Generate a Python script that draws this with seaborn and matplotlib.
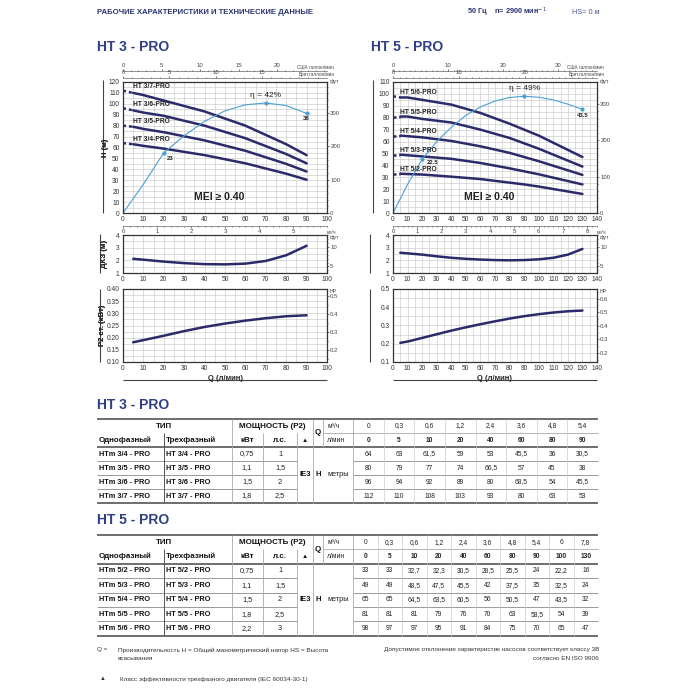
import matplotlib
matplotlib.use('Agg')
import numpy as np
import pandas as pd
import seaborn as sns
import matplotlib.pyplot as plt
from matplotlib.ticker import MultipleLocator, FormatStrFormatter

sns.set_style('white')
plt.rcParams['font.family'] = ['Liberation Sans', 'DejaVu Sans']

NAVY = '#2b2a6b'
TITLE = '#2e3f86'
BLUE = '#4b9fd6'
GRID = '#c9c9c9'

# ---------------- HT 3 - PRO ----------------
q3 = [0, 5, 10, 20, 40, 60, 80, 90]
q3_m3 = ['0', '0,3', '0,6', '1,2', '2,4', '3,6', '4,8', '5,4']
models3 = ['3/4', '3/5', '3/6', '3/7']
kw3 = ['0,75', '1,1', '1,5', '1,8']
hp3 = ['1', '1,5', '2', '2,5']
h3 = [[64, 63, 61.5, 59, 53, 45.5, 36, 30.5],
      [80, 79, 77, 74, 66.5, 57, 45, 38],
      [96, 94, 92, 89, 80, 68.5, 54, 45.5],
      [112, 110, 108, 103, 93, 80, 63, 53]]
eff3_q = [0, 10, 20, 30, 40, 50, 60, 70, 80, 90]
eff3 = [0, 11, 23, 29.5, 35, 39, 41.3, 42, 41, 38]
npsh3_q = [5, 10, 20, 30, 40, 50, 60, 70, 80, 90]
npsh3 = [2.12, 2.05, 1.9, 1.78, 1.7, 1.68, 1.74, 1.95, 2.4, 3.15]
p2_3_q = [5, 10, 20, 30, 40, 50, 60, 70, 80, 90]
p2_3 = [0.181, 0.19, 0.208, 0.227, 0.244, 0.258, 0.27, 0.28, 0.288, 0.292]

# ---------------- HT 5 - PRO ----------------
q5 = [0, 5, 10, 20, 40, 60, 80, 90, 100, 130]
q5_m3 = ['0', '0,3', '0,6', '1,2', '2,4', '3,6', '4,8', '5,4', '6', '7,8']
models5 = ['5/2', '5/3', '5/4', '5/5', '5/6']
kw5 = ['0,75', '1,1', '1,5', '1,8', '2,2']
hp5 = ['1', '1,5', '2', '2,5', '3']
h5 = [[33, 33, 32.7, 32.3, 30.5, 28.5, 25.5, 24, 22.2, 16],
      [49, 49, 48.5, 47.5, 45.5, 42, 37.5, 35, 32.5, 24],
      [65, 65, 64.5, 63.5, 60.5, 56, 50.5, 47, 43.5, 32],
      [81, 81, 81, 79, 76, 70, 63, 58.5, 54, 39],
      [98, 97, 97, 95, 91, 84, 75, 70, 65, 47]]
eff5_q = [0, 10, 20, 30, 40, 50, 60, 70, 80, 90, 100, 110, 120, 130]
eff5 = [0, 12, 22.5, 30, 36, 41, 44.5, 47, 48.5, 49, 48.6, 47.5, 45.7, 43.5]
npsh5_q = [5, 10, 20, 30, 40, 50, 60, 70, 80, 90, 100, 110, 120, 130]
npsh5 = [2.6, 2.55, 2.45, 2.32, 2.2, 2.12, 2.06, 2.02, 2.0, 2.02, 2.08, 2.2, 2.45, 2.9]
p2_5_q = [5, 10, 20, 30, 40, 50, 60, 70, 80, 90, 100, 110, 120, 130]
p2_5 = [0.205, 0.212, 0.232, 0.252, 0.272, 0.29, 0.307, 0.323, 0.338, 0.351,
        0.362, 0.371, 0.378, 0.382]

fig = plt.figure(figsize=(7, 7), dpi=100)
W = H_ = 700.0


def px(x0, y0, x1, y1):
    return [x0 / W, 1 - y1 / H_, (x1 - x0) / W, (y1 - y0) / H_]


def style(ax, xmax, ymin, ymax, ymaj, ymin_step):
    ax.set_xlim(0, xmax)
    ax.set_ylim(ymin, ymax)
    ax.xaxis.set_major_locator(MultipleLocator(10))
    ax.xaxis.set_minor_locator(MultipleLocator(5))
    ax.yaxis.set_major_locator(MultipleLocator(ymaj))
    ax.yaxis.set_minor_locator(MultipleLocator(ymin_step))
    ax.grid(which='both', color=GRID, lw=0.45)
    ax.tick_params(which='both', labelsize=4.8, length=1.5, pad=1, colors='#333')
    ax.tick_params(which='minor', length=0)
    for s in ax.spines.values():
        s.set_color('#333')
        s.set_linewidth(0.9)
    ax.set_xlabel('')
    ax.set_ylabel('')


def small_axis(sec, ticks, minor=None, xaxis=True):
    sec.set_ticks(ticks)
    if minor:
        (sec.xaxis if xaxis else sec.yaxis).set_minor_locator(MultipleLocator(minor))
    sec.tick_params(which='both', labelsize=4.3, length=1.5, pad=0.8, colors='#444', width=0.5)
    sec.tick_params(which='minor', length=1.0)
    for s in sec.spines.values():
        s.set_color('#666')
        s.set_linewidth(0.5)


def ylab(ax, text, xpix, rect):
    ax.set_ylabel(text, fontsize=5.5, fontweight='bold')
    ax.yaxis.set_label_coords((xpix - rect[0]) / (rect[2] - rect[0]), 0.5)


def h_chart(rect, xmax, ymax, q, h, models, eff_q, eff, k, marks,
            us_ticks, imp_ticks, m3_ticks, ft_ticks):
    ax = fig.add_axes(px(*rect))
    for name, hv in zip(models, h):
        sns.lineplot(x=q[:2], y=hv[:2], ax=ax, color=NAVY, lw=1.8,
                     linestyle=(0, (1.2, 1.2)))
        sns.lineplot(x=q[1:], y=hv[1:], ax=ax, color=NAVY, lw=1.8)
        ax.text(5, hv[0] + 3.5, 'HT %s-PRO' % name, fontsize=4.8,
                fontweight='bold', color='#222', va='center', ha='left')
    ke = [e * k for e in eff]
    sns.lineplot(x=eff_q, y=ke, ax=ax, color=BLUE, lw=0.8)
    for mq, lab, dx, dy, ha in marks:
        v = eff[eff_q.index(mq)] * k
        ax.plot([mq], [v], 'o', color=BLUE, ms=2)
        eta = 'η' in lab
        ax.text(mq + dx, v + dy, lab, fontsize=6 if eta else 4.3,
                color='#222', ha=ha, va='center',
                fontweight='normal' if eta else 'bold')
    ax.text(xmax * 0.47, ymax * 0.125, 'MEI ≥ 0.40', fontsize=7.5,
            fontweight='bold', color='#222', ha='center', va='center')
    style(ax, xmax, 0, ymax, 10, 5)
    ylab(ax, 'H (м)', 109, rect)
    us = ax.secondary_xaxis(1.085, functions=(lambda x: x / 3.785, lambda x: x * 3.785))
    small_axis(us, us_ticks, 1)
    imp = ax.secondary_xaxis(1.03, functions=(lambda x: x / 4.546, lambda x: x * 4.546))
    small_axis(imp, imp_ticks, 1)
    m3 = ax.secondary_xaxis(-0.1, functions=(lambda x: x * 0.06, lambda x: x / 0.06))
    small_axis(m3, m3_ticks, 0.2)
    ft = ax.secondary_yaxis('right', functions=(lambda x: x * 3.281, lambda x: x / 3.281))
    small_axis(ft, ft_ticks, 20, xaxis=False)
    ax.text(1.035, 1.095, 'США галлон/мин', transform=ax.transAxes, fontsize=3.3,
            ha='right', va='bottom', color='#444')
    ax.text(1.035, 1.04, 'Брит.галлон/мин', transform=ax.transAxes, fontsize=3.3,
            ha='right', va='bottom', color='#444')
    ax.text(1.015, 1.0, 'фут', transform=ax.transAxes, fontsize=3.8,
            ha='left', va='center', color='#444')
    ax.text(1.0, -0.13, 'м³/ч', transform=ax.transAxes, fontsize=3.8,
            ha='left', va='top', color='#444')
    return ax


def npsh_chart(rect, xmax, q, v):
    ax = fig.add_axes(px(*rect))
    sns.lineplot(x=q, y=v, ax=ax, color=NAVY, lw=1.8)
    style(ax, xmax, 1, 4, 1, 0.5)
    ylab(ax, 'ДКЗ (м)', 108, rect)
    ft = ax.secondary_yaxis('right', functions=(lambda x: x * 3.281, lambda x: x / 3.281))
    small_axis(ft, [5, 10], 1, xaxis=False)
    ax.text(1.015, 0.93, 'фут', transform=ax.transAxes, fontsize=3.8,
            ha='left', va='center', color='#444')
    return ax


def p2_chart(rect, xmax, q, v, ymax, ystep, hp_ticks):
    ax = fig.add_axes(px(*rect))
    sns.lineplot(x=q, y=v, ax=ax, color=NAVY, lw=1.8)
    style(ax, xmax, 0.1, ymax, ystep, ystep / 2)
    ax.yaxis.set_major_formatter(FormatStrFormatter('%.2f' if ystep < 0.1 else '%.1f'))
    ylab(ax, 'P2 ст. (кВт)', 106, rect)
    ax.set_xlabel('Q (л/мин)', fontsize=5.5, fontweight='bold', labelpad=2)
    hp = ax.secondary_yaxis('right', functions=(lambda x: x * 1.341, lambda x: x / 1.341))
    small_axis(hp, hp_ticks, 0.05, xaxis=False)
    ax.text(1.015, 0.97, 'HP', transform=ax.transAxes, fontsize=3.8,
            ha='left', va='center', color='#444')
    return ax


h_chart((123, 82, 327, 213), 100, 120, q3, h3, models3,
        eff3_q, eff3, 2.4,
        [(20, '23', 1.5, -5, 'left'), (70, 'η = 42%', 0, 7, 'center'),
         (90, '38', 0, -5, 'center')],
        [0, 5, 10, 15, 20], [0, 5, 10, 15], [0, 1, 2, 3, 4, 5], [0, 100, 200, 300])
npsh_chart((123, 235, 327, 273), 100, npsh3_q, npsh3)
p2_chart((123, 289, 327, 362), 100, p2_3_q, p2_3, 0.40, 0.05, [0.2, 0.3, 0.4, 0.5])

h_chart((393, 82, 597, 213), 140, 110, q5, h5, models5,
        eff5_q, eff5, 2.0,
        [(20, '22.5', 3, -2.5, 'left'), (90, 'η = 49%', 0, 6.5, 'center'),
         (130, '43.5', 0, -5, 'center')],
        [0, 10, 20, 30], [0, 10, 20], [0, 1, 2, 3, 4, 5, 6, 7, 8], [0, 100, 200, 300])
npsh_chart((393, 235, 597, 273), 140, npsh5_q, npsh5)
p2_chart((393, 289, 597, 362), 140, p2_5_q, p2_5, 0.5, 0.1, [0.2, 0.3, 0.4, 0.5, 0.6])

# overlay for page text and tables (pixel coordinates)
ov = fig.add_axes([0, 0, 1, 1], zorder=-1)
ov.set_xlim(0, 700)
ov.set_ylim(700, 0)
ov.axis('off')


def line(x0, x1, y0, y1, c='#999', lw=0.6):
    ov.plot([x0, x1], [y0, y1], color=c, lw=lw, solid_capstyle='butt')


ov.text(97, 12, 'РАБОЧИЕ ХАРАКТЕРИСТИКИ И ТЕХНИЧЕСКИЕ ДАННЫЕ', fontsize=5.6,
        fontweight='bold', color='#2a3470', va='center')
ov.text(467, 12, '50 Гц    n= 2900 мин$^{-1}$', fontsize=5.3, fontweight='bold',
        color='#2a3470', va='center')
ov.text(572, 12, 'HS= 0 м', fontsize=5.3, color='#4a5a9a', va='center')
ov.text(97, 47, 'HT 3 - PRO', fontsize=10, fontweight='bold', color=TITLE, va='center')
ov.text(371, 47, 'HT 5 - PRO', fontsize=10, fontweight='bold', color=TITLE, va='center')

# decorative rules beside charts
for dx in (0, 270):
    line(103 + dx, 103 + dx, 80, 213, '#444', 0.8)
    line(100 + dx, 100 + dx, 234, 273, '#444', 0.8)
    line(100 + dx, 100 + dx, 289, 362, '#444', 0.8)
    line(123 + dx, 327 + dx, 380, 380, '#444', 0.8)


def table(title_y, top, rh, qm3, ql, models, kw, hp, H):
    ov.text(97, title_y, 'HT %s - PRO' % models[0].split('/')[0], fontsize=10,
            fontweight='bold', color=TITLE, va='center')
    dcols = np.linspace(353, 598, len(ql) + 1)
    r1, r2 = top + rh, top + 2 * rh
    nrow = len(models)
    bottom = r2 + nrow * rh
    # horizontal rules
    line(97, 598, top, top, '#555', 1.2)
    line(323, 598, r1, r1, '#aaa', 0.6)
    line(97, 598, r2, r2, '#555', 1.2)
    for i in range(1, nrow):
        y = r2 + i * rh
        line(97, 297, y, y, '#999', 0.7)
        line(353, 598, y, y, '#999', 0.7)
    line(97, 598, bottom, bottom, '#555', 1.2)
    # vertical rules
    line(164, 164, r1, bottom, '#555', 0.7)
    for x in (232, 313, 353):
        line(x, x, top, bottom, '#aaa', 0.6)
    line(323, 323, top, r2, '#aaa', 0.6)
    for x in (263, 297):
        line(x, x, r1, bottom, '#aaa', 0.6)
    for x in dcols[1:-1]:
        line(x, x, top, bottom, '#ccc', 0.5)
    # header text
    fb = dict(fontsize=5.8, fontweight='bold', color='#111', va='center')
    ov.text(164, top + rh / 2, 'ТИП', ha='center', **fb)
    ov.text(272, top + rh / 2, 'МОЩНОСТЬ (P2)', ha='center', **fb)
    ov.text(99, r1 + rh / 2, 'Однофазный', ha='left', **fb)
    ov.text(166, r1 + rh / 2, 'Трехфазный', ha='left', **fb)
    ov.text(247, r1 + rh / 2, 'кВт', ha='center', **fb)
    ov.text(280, r1 + rh / 2, 'л.с.', ha='center', **fb)
    ov.text(305, r1 + rh / 2, '▲', ha='center', fontsize=4.5, color='#111', va='center')
    ov.text(318, r1, 'Q', ha='center', **fb)
    ov.text(327, top + rh / 2, 'м³/ч', ha='left', fontsize=4.8, color='#222', va='center')
    ov.text(327, r1 + rh / 2, 'л/мин', ha='left', fontsize=4.8, color='#222', va='center')
    mids = (dcols[:-1] + dcols[1:]) / 2
    for x, a, b in zip(mids, qm3, ql):
        ov.text(x, top + rh / 2, a, ha='center', va='center', fontsize=4.8, color='#222')
        ov.text(x, r1 + rh / 2, str(b), ha='center', va='center', fontsize=4.8,
                fontweight='bold', color='#222')
    # body
    for i, (m, k, p, hv) in enumerate(zip(models, kw, hp, H)):
        y = r2 + (i + 0.5) * rh
        ov.text(99, y, 'HTm %s - PRO' % m, ha='left', va='center', fontsize=5.3,
                fontweight='bold', color='#111')
        ov.text(166, y, 'HT %s - PRO' % m, ha='left', va='center', fontsize=5.3,
                fontweight='bold', color='#111')
        ov.text(247, y, k, ha='center', va='center', fontsize=5.3, color='#222')
        ov.text(280, y, p, ha='center', va='center', fontsize=5.3, color='#222')
        for x, v in zip(mids, hv):
            s = ('%g' % v).replace('.', ',')
            ov.text(x, y, s, ha='center', va='center', fontsize=4.8, color='#222')
    ym = (r2 + bottom) / 2
    ov.text(305, ym, 'IE3', ha='center', va='center', fontsize=5.5, fontweight='bold', color='#111')
    ov.text(318, ym, 'H', ha='center', va='center', fontsize=5.5, fontweight='bold', color='#111')
    ov.text(338, ym, 'метры', ha='center', va='center', fontsize=5.3, color='#222')


table(405, 419, 14.0, q3_m3, q3, models3, kw3, hp3, h3)
table(520, 535, 14.4, q5_m3, q5, models5, kw5, hp5, h5)

fs = dict(fontsize=4.6, color='#333', va='center')
ov.text(97, 650, 'Q =', ha='left', **fs)
ov.text(118, 650, 'Производительность H = Общий манометрический напор HS = Высота', ha='left', **fs)
ov.text(118, 659, 'всасывания', ha='left', **fs)
ov.text(599, 650, 'Допустимое отклонение характеристик насосов соответствует классу 3В',
        ha='right', **fs)
ov.text(599, 659, 'согласно EN ISO 9906', ha='right', **fs)
ov.text(100, 679, '▲', ha='left', fontsize=4.2, color='#333', va='center')
ov.text(120, 679, 'Класс эффективности трехфазного двигателя (IEC 60034-30-1)', ha='left', **fs)

fig.savefig('out.png', dpi=100, facecolor='white')
